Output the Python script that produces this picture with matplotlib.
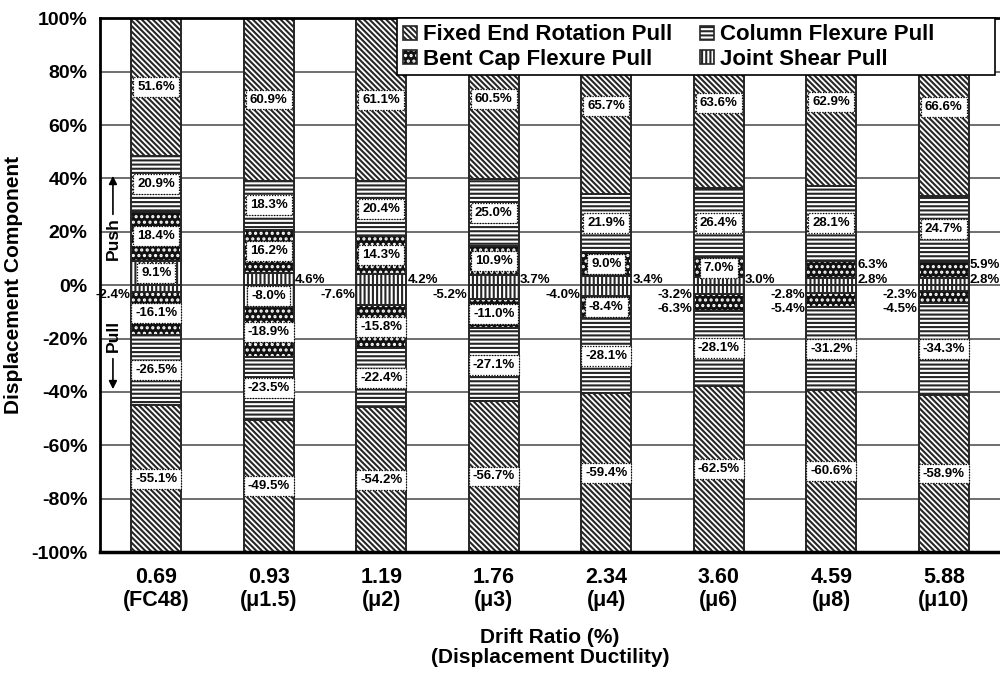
import numpy as np
import matplotlib
matplotlib.use('Agg')
import matplotlib.pyplot as plt
from matplotlib.patches import Patch, Rectangle

plt.rcParams['font.family'] = ['Liberation Sans', 'DejaVu Sans']
plt.rcParams['font.weight'] = 'bold'
plt.rcParams['axes.labelweight'] = 'bold'
plt.rcParams['hatch.linewidth'] = 1.5

# drift ratio (%) and ductility level of each bar
drift = ['0.69', '0.93', '1.19', '1.76', '2.34', '3.60', '4.59', '5.88']
ductility = ['FC48', 'μ1.5', 'μ2', 'μ3', 'μ4', 'μ6', 'μ8', 'μ10']

# push direction components (%), stacked upward from zero
joint_push = [9.1, 4.6, 4.2, 3.7, 3.4, 3.0, 2.8, 2.8]
bent_push = [18.4, 16.2, 14.3, 10.9, 9.0, 7.0, 6.3, 5.9]
column_push = [20.9, 18.3, 20.4, 25.0, 21.9, 26.4, 28.1, 24.7]
fer_push = [51.6, 60.9, 61.1, 60.5, 65.7, 63.6, 62.9, 66.6]

# pull direction components (%), stacked downward from zero
joint_pull = [-2.4, -8.0, -7.6, -5.2, -4.0, -3.2, -2.8, -2.3]
bent_pull = [-16.1, -18.9, -15.8, -11.0, -8.4, -6.3, -5.4, -4.5]
column_pull = [-26.5, -23.5, -22.4, -27.1, -28.1, -28.1, -31.2, -34.3]
fer_pull = [-55.1, -49.5, -54.2, -56.7, -59.4, -62.5, -60.6, -58.9]

names = ['Joint Shear Pull', 'Bent Cap Flexure Pull', 'Column Flexure Pull', 'Fixed End Rotation Pull']
edge = '#262626'
# fill colour, hatch colour and hatch per component (bent cap: white dots on black)
faces = ['white', '#111111', 'white', 'white']
hatch_colors = [edge, 'white', edge, edge]
hatches = ['||||', '...', '----', '\\\\\\\\\\\\']
# smallest value that still gets a boxed label inside the segment
inside_min = [8.0, 7.0, 7.0, 7.0]

fig = plt.figure(figsize=(10, 6.75), dpi=100)
ax = fig.add_axes([0.1, 0.182, 0.9, 0.791])

x = np.arange(len(drift))
width = 0.445

box = dict(boxstyle='square,pad=0.3', fc='white', ec='black', ls=(0, (1, 1.2)), lw=0.9)

for series_set in ([joint_push, bent_push, column_push, fer_push],
                   [joint_pull, bent_pull, column_pull, fer_pull]):
    base = np.zeros(len(x))
    outside_count = np.zeros(len(x), dtype=int)
    for k, vals in enumerate(series_set):
        vals = np.array(vals)
        # hatched fill, then a dark outline on top
        ax.bar(x, vals, width, bottom=base, color=faces[k], edgecolor=hatch_colors[k],
               hatch=hatches[k], linewidth=0, zorder=2)
        ax.bar(x, vals, width, bottom=base, fill=False, edgecolor=edge,
               linewidth=1.4, zorder=2.5)
        for i, v in enumerate(vals):
            mid = base[i] + v / 2
            if abs(v) >= inside_min[k]:
                ax.text(x[i], mid, f'{v:.1f}%', ha='center', va='center',
                        fontsize=9.5, bbox=box, zorder=4)
            elif v > 0:
                y = 2.1 + 5.4 * outside_count[i]
                outside_count[i] += 1
                ax.text(x[i] + width / 2 + 0.01, y, f'{v:.1f}%', ha='left',
                        va='center', fontsize=9.5, zorder=4)
            else:
                y = -3.6 - 5.2 * outside_count[i]
                outside_count[i] += 1
                ax.text(x[i] - width / 2 - 0.01, y, f'{v:.1f}%', ha='right',
                        va='center', fontsize=9.5, zorder=4)
        base = base + vals

# push / pull direction markers
ax.text(-0.385, 17.5, 'Push', rotation=90, ha='center', va='center', fontsize=12.5)
ax.annotate('', xy=(-0.385, 42), xytext=(-0.385, 25.5),
            arrowprops=dict(arrowstyle='-|>', color='black', lw=1.2, mutation_scale=12))
ax.text(-0.385, -19.0, 'Pull', rotation=90, ha='center', va='center', fontsize=12.5)
ax.annotate('', xy=(-0.385, -40), xytext=(-0.385, -26.5),
            arrowprops=dict(arrowstyle='-|>', color='black', lw=1.2, mutation_scale=12))

ax.set_xlim(-0.5, 7.5)
ax.set_ylim(-100, 100)
ax.set_yticks(np.arange(-100, 101, 20))
ax.set_yticklabels([f'{t}%' for t in range(-100, 101, 20)], fontsize=14)
ax.set_xticks(x)
ax.set_xticklabels([f'{d}\n({m})' for d, m in zip(drift, ductility)], fontsize=15.5,
                   linespacing=1.1)
ax.tick_params(axis='both', length=0)
ax.tick_params(axis='y', pad=9)
ax.tick_params(axis='x', pad=11)

ax.yaxis.grid(True, color='#555555', lw=1.2, zorder=0)
ax.set_axisbelow(True)
ax.spines['left'].set_linewidth(2)
ax.spines['bottom'].set_linewidth(2.5)
ax.spines['top'].set_linewidth(2)
ax.spines['right'].set_visible(False)

ax.set_ylabel('Displacement Component', fontsize=15, labelpad=6)
ax.set_xlabel('Drift Ratio (%)\n(Displacement Ductility)', fontsize=15, labelpad=12,
              linespacing=1.1)

# legend frame drawn separately so it can be wider than its entries
leg_x0, leg_y1, leg_w, leg_h = 0.397, 0.973, 0.598, 57 / 675
frame = Rectangle((leg_x0, leg_y1 - leg_h), leg_w, leg_h, transform=fig.transFigure,
                  facecolor='white', edgecolor='black', lw=1.2, zorder=4.8, clip_on=False)
ax.add_patch(frame)

handles = [(Patch(facecolor=faces[k], edgecolor=hatch_colors[k], hatch=hatches[k], lw=0),
            Patch(fill=False, edgecolor=edge, lw=1.2)) for k in range(4)]
order = [3, 1, 2, 0]
leg = ax.legend([handles[k] for k in order], [names[k] for k in order], ncol=2,
                loc='upper left', bbox_to_anchor=(leg_x0, leg_y1),
                bbox_transform=fig.transFigure, prop={'size': 16, 'weight': 'bold'},
                frameon=False, handlelength=0.6, handleheight=0.6, handletextpad=0.3,
                columnspacing=1.25, labelspacing=0.15, borderpad=0.28, borderaxespad=0)
leg.set_zorder(5)

fig.savefig('out.png', dpi=100)
